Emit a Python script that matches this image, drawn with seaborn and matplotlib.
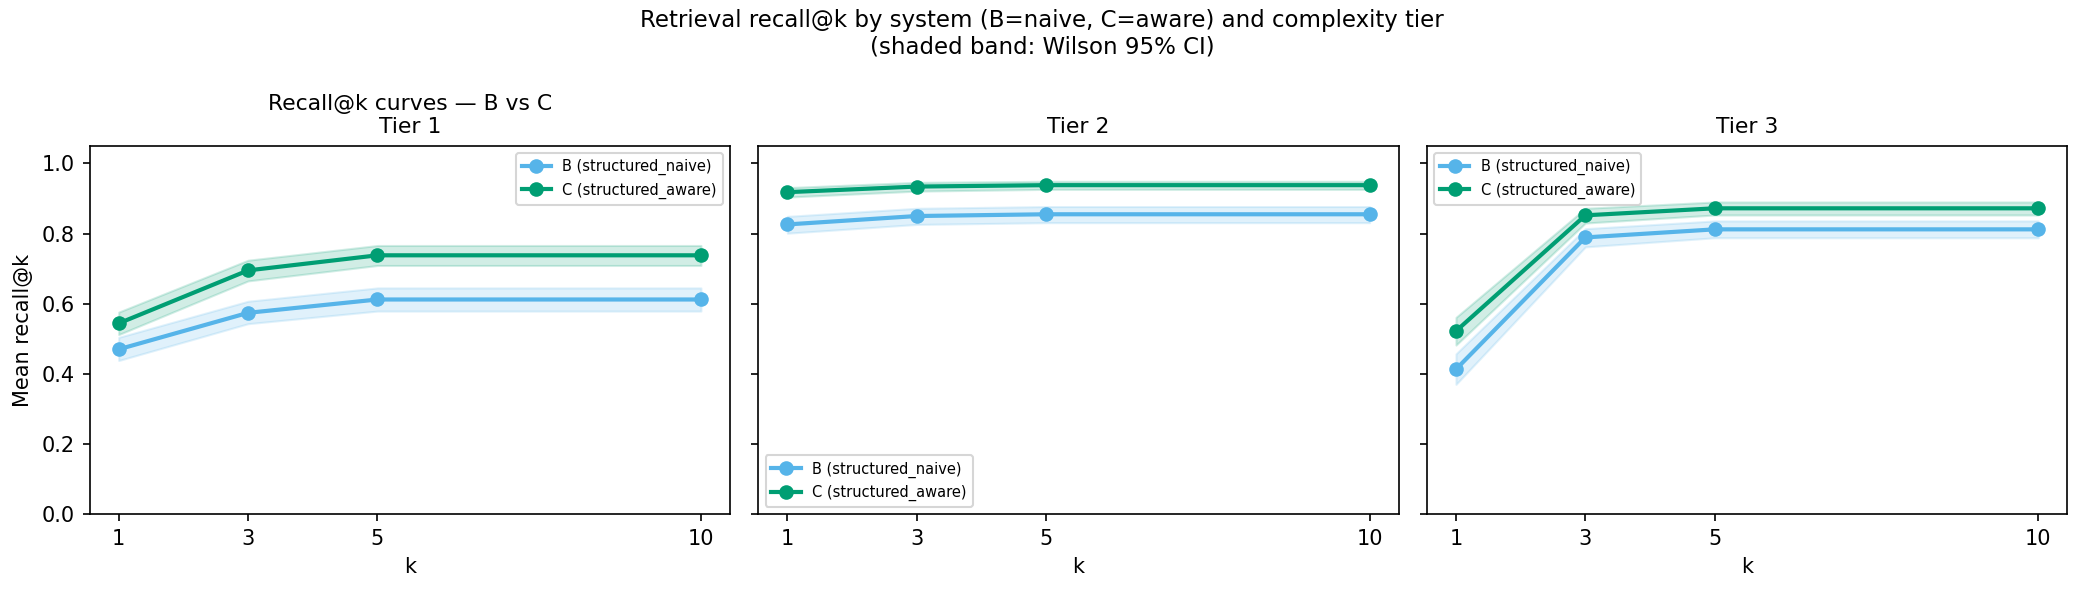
import numpy as np
import pandas as pd
import seaborn as sns
import matplotlib.pyplot as plt

# ── data ──────────────────────────────────────────────────
k_values = [1, 3, 5, 10]
tiers = ["Tier 1", "Tier 2", "Tier 3"]
systems = ["B (structured_naive)", "C (structured_aware)"]

b_mean = {
    "Tier 1": [0.470, 0.574, 0.612, 0.612],
    "Tier 2": [0.826, 0.850, 0.855, 0.855],
    "Tier 3": [0.413, 0.789, 0.812, 0.812],
}
b_lo = {
    "Tier 1": [0.438, 0.543, 0.579, 0.579],
    "Tier 2": [0.801, 0.826, 0.831, 0.831],
    "Tier 3": [0.370, 0.762, 0.788, 0.788],
}
b_hi = {
    "Tier 1": [0.504, 0.607, 0.645, 0.645],
    "Tier 2": [0.849, 0.872, 0.877, 0.877],
    "Tier 3": [0.457, 0.814, 0.836, 0.836],
}
c_mean = {
    "Tier 1": [0.544, 0.695, 0.738, 0.738],
    "Tier 2": [0.918, 0.934, 0.938, 0.938],
    "Tier 3": [0.522, 0.852, 0.872, 0.872],
}
c_lo = {
    "Tier 1": [0.512, 0.665, 0.709, 0.709],
    "Tier 2": [0.904, 0.921, 0.926, 0.926],
    "Tier 3": [0.482, 0.830, 0.853, 0.853],
}
c_hi = {
    "Tier 1": [0.576, 0.724, 0.766, 0.766],
    "Tier 2": [0.931, 0.946, 0.949, 0.949],
    "Tier 3": [0.561, 0.872, 0.890, 0.890],
}

palette = {systems[0]: "#56B4E9", systems[1]: "#009E73"}
legend_locs = ["upper right", "lower left", "upper left"]

rows = []
for t in tiers:
    for s, mean, lo, hi in [(systems[0], b_mean, b_lo, b_hi), (systems[1], c_mean, c_lo, c_hi)]:
        for i, k in enumerate(k_values):
            rows.append({"tier": t, "system": s, "k": k,
                         "recall": mean[t][i], "lo": lo[t][i], "hi": hi[t][i]})
df = pd.DataFrame(rows)

# ── plot ──────────────────────────────────────────────────
fig, axes = plt.subplots(1, 3, figsize=(2084 / 150, 593 / 150), dpi=150, sharey=True)

for ax, t, loc in zip(axes, tiers, legend_locs):
    sub = df[df["tier"] == t]
    for s in systems:
        d = sub[sub["system"] == s]
        ax.fill_between(d["k"], d["lo"], d["hi"], color=palette[s], alpha=0.18, linewidth=1)
    sns.lineplot(data=sub, x="k", y="recall", hue="system", palette=palette,
                 marker="o", markersize=7, markeredgewidth=0, linewidth=2,
                 errorbar=None, ax=ax)
    ax.set_xticks(k_values)
    ax.set_ylim(0, 1.05)
    ax.set_xlabel("k")
    ax.set_ylabel("Mean recall@k")
    ax.legend(title=None, fontsize=7, loc=loc)
    ax.set_title(t, fontsize=10.5)

axes[0].set_title("Recall@k curves — B vs C\nTier 1", fontsize=10.5)
fig.suptitle("Retrieval recall@k by system (B=naive, C=aware) and complexity tier\n"
             "(shaded band: Wilson 95% CI)", fontsize=11, y=0.985)

fig.subplots_adjust(left=0.043, right=0.992, top=0.754, bottom=0.133, wspace=0.044)
fig.savefig("out.png", dpi=150)
